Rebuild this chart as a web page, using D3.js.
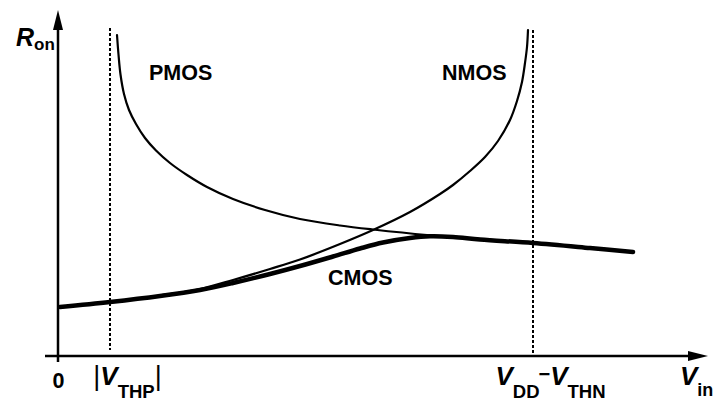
<!DOCTYPE html>
<html><head><meta charset="utf-8">
<script src="https://cdn.jsdelivr.net/npm/d3@7/dist/d3.min.js"></script>
<style>
html,body{margin:0;padding:0;background:#fff;}
svg{display:block;}
text{font-family:"Liberation Sans",Arial,Helvetica,sans-serif;font-weight:bold;fill:#000;}
</style></head>
<body>
<script>
// ---- data (Vin, Ron in arbitrary units) ----
const pmosVin = [0.59,0.605,0.625,0.66,0.71,0.78,0.87,0.98,1.12,1.29,1.49,1.75,2.07,2.42,2.82,3.15,3.69,4.22,4.75,5.32,5.75];
const pmosRon = [3.21,3.015,2.815,2.62,2.46,2.32,2.18,2.055,1.93,1.81,1.69,1.57,1.46,1.37,1.305,1.265,1.21,1.17,1.13,1.08,1.04];

const nmosVin = [0.02,0.52,1.02,1.42,1.75,2.12,2.42,2.82,3.15,3.52,3.82,3.95,4.12,4.27,4.40,4.52,4.59,4.64,4.67,4.69,4.70];
const nmosRon = [0.49,0.54,0.605,0.67,0.76,0.87,0.965,1.12,1.26,1.44,1.62,1.71,1.85,1.99,2.15,2.36,2.55,2.74,2.93,3.09,3.26];

const cmosVin = [0.02,0.52,1.02,1.42,1.75,2.12,2.42,2.75,3.02,3.25,3.52,3.72,3.95,4.22,4.75,5.32,5.75];
const cmosRon = [0.49,0.54,0.60,0.66,0.73,0.82,0.90,0.995,1.075,1.135,1.18,1.197,1.19,1.165,1.13,1.08,1.04];

const thresholds = [0.52, 4.75];           // |VTHP|, VDD - VTHN
const tickValues = [0, 0.52, 4.75];
const tickLabels = [
  [{t:"0"}],
  [{t:"|",bar:true},{t:"V",it:true},{t:"THP",sub:true},{t:"|",bar:true,up:true}],
  [{t:"V",it:true},{t:"DD",sub:true},{t:"\u2212",minus:true},{t:"V",it:true,down:true},{t:"THN",sub:true}]
];
const curveNames = ["PMOS","NMOS","CMOS"];

// ---- layout ----
const W = 714, H = 401;
const x = d3.scaleLinear().domain([0, 6.5]).range([58, 708]);
const y = d3.scaleLinear().domain([0, 3.46]).range([356, 10]);

const svg = d3.select("body").append("svg").attr("width", W).attr("height", H);

// axes lines
const ax = svg.append("g");
ax.append("line").attr("x1", x(-0.13)).attr("x2", x(6.5) - 14)
  .attr("y1", y(0)).attr("y2", y(0)).attr("stroke", "#000").attr("stroke-width", 2.5);
ax.append("path").attr("d", `M${x(6.5)},${y(0)} L${x(6.5)-20},${y(0)-5} L${x(6.5)-20},${y(0)+5} Z`).attr("fill", "#000");
ax.append("line").attr("x1", x(0)).attr("x2", x(0))
  .attr("y1", y(-0.06)).attr("y2", y(3.46) + 14).attr("stroke", "#000").attr("stroke-width", 2.5);
ax.append("path").attr("d", `M${x(0)},${y(3.46)} L${x(0)-5},${y(3.46)+20} L${x(0)+5},${y(3.46)+20} Z`).attr("fill", "#000");

// dashed threshold lines
svg.append("g").selectAll("line").data(thresholds).join("line")
  .attr("x1", d => x(d)).attr("x2", d => x(d))
  .attr("y1", (d, i) => i === 0 ? y(3.28) : y(3.26))
  .attr("y2", (d, i) => i === 0 ? y(0.06) : y(0.03))
  .attr("stroke", "#000").attr("stroke-width", 2).attr("stroke-dasharray", "3,2");

// curves
const line = d3.line().x(d => x(d[0])).y(d => y(d[1])).curve(d3.curveCatmullRom.alpha(0.5));
const zip = (a, b) => a.map((v, i) => [v, b[i]]);
const g = svg.append("g").attr("fill", "none").attr("stroke", "#000").attr("stroke-linecap", "round").attr("stroke-linejoin", "round");
g.append("path").attr("d", line(zip(pmosVin, pmosRon))).attr("stroke-width", 2.2);
g.append("path").attr("d", line(zip(nmosVin, nmosRon))).attr("stroke-width", 2.2);
g.append("path").attr("d", line(zip(cmosVin, cmosRon))).attr("stroke-width", 4.5);

// curve labels
const labelPos = [[0.91, 2.76], [3.84, 2.76], [2.70, 0.71]];
svg.append("g").selectAll("text").data(curveNames).join("text")
  .attr("x", (d, i) => x(labelPos[i][0])).attr("y", (d, i) => y(labelPos[i][1]))
  .attr("font-size", 21.5).text(d => d);

// x axis tick labels through d3 axis
const xAxis = d3.axisBottom(x).tickValues(tickValues).tickSize(0).tickFormat(() => "");
const xg = svg.append("g").attr("transform", `translate(0,${y(0)})`).call(xAxis);
xg.select(".domain").remove();
const shifts = [0, 17, 17];
xg.selectAll(".tick text").each(function(d, i) {
  const t = d3.select(this).attr("y", 29).attr("dy", null)
    .attr("x", shifts[i]).attr("text-anchor", "middle")
    .attr("font-family", "'Liberation Sans',Arial,sans-serif").attr("fill", "#000");
  if (i === 0) { t.attr("y", 32).attr("font-size", 21.5).attr("font-weight", "bold").text("0"); return; }
  tickLabels[i].forEach((p, k) => {
    const s = t.append("tspan").text(p.t);
    if (p.it) s.attr("font-size", 26).attr("font-style", "italic").attr("font-weight", "bold");
    if (p.sub) s.attr("font-size", 18.5).attr("font-weight", "bold").attr("dy", 13);
    if (p.bar) s.attr("font-size", 27).attr("font-weight", "normal");
    if (p.minus) s.attr("font-size", 20).attr("font-weight", "bold").attr("dy", -17).attr("dx", -1);
    if (p.down) s.attr("dy", 4);
    if (p.up) s.attr("dy", -13);
  });
});

// axis titles
const rt = svg.append("text").attr("x", 16).attr("y", 46);
rt.append("tspan").attr("font-size", 25).attr("font-style", "italic").text("R");
rt.append("tspan").attr("font-size", 17).attr("dy", 4).text("on");
const vt = svg.append("text").attr("x", 680).attr("y", 385);
vt.append("tspan").attr("font-size", 26).attr("font-style", "italic").text("V");
vt.append("tspan").attr("font-size", 18).attr("dy", 11).text("in");
</script>
</body></html>
